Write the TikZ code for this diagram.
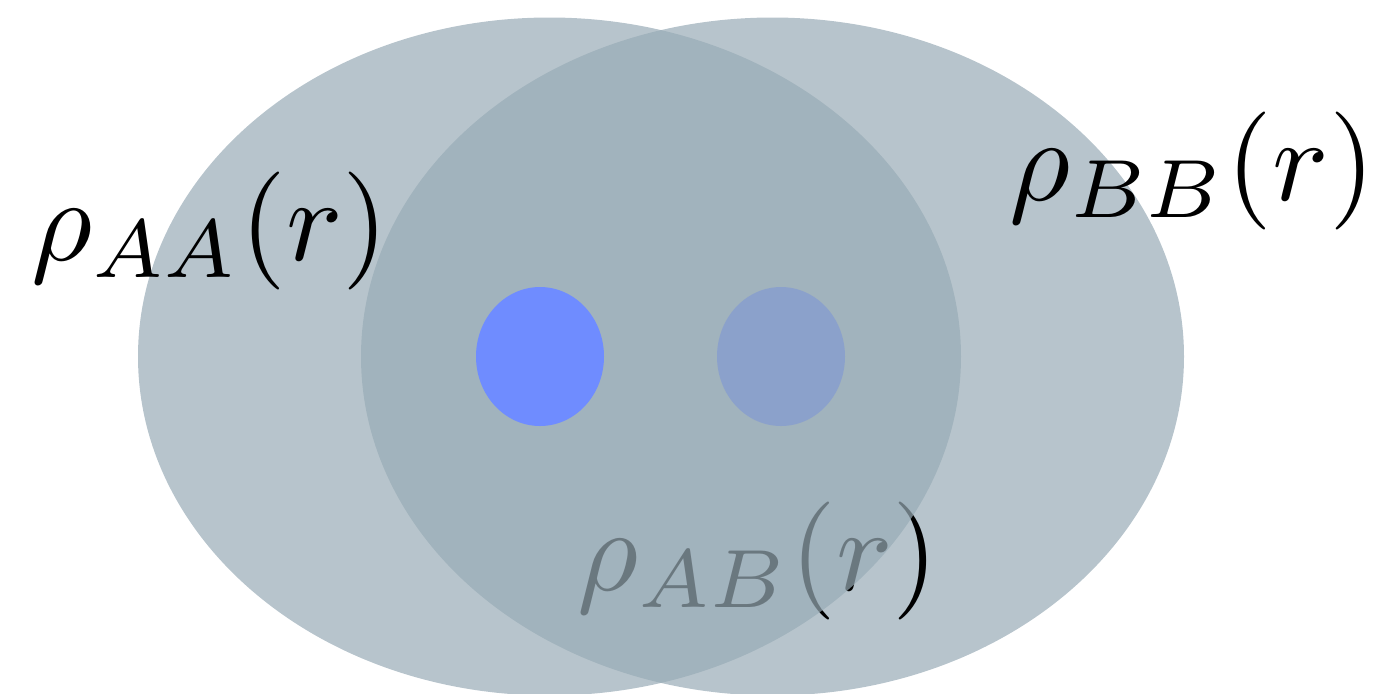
\documentclass[tikz,border=0pt]{standalone}
\definecolor{ellc}{RGB}{152,171,182}
\definecolor{dotc}{RGB}{111,140,255}
\begin{document}
\begin{tikzpicture}[x=0.5pt,y=-0.5pt,
  lbl/.style={inner sep=0pt, anchor=base, scale=5.9, transform shape},
  ell/.style={fill=ellc, fill opacity=0.7},
  dotfill/.style={fill=dotc}]
\useasboundingbox (0,0) rectangle (1378,693);
\coordinate (cb) at (772.5,356.5);
\coordinate (ca) at (549.5,356.5);
\fill[ell] (cb) ellipse [x radius=411.5, y radius=339];
\fill[dotfill] (781,356.5) ellipse [x radius=64, y radius=69.5];
\node[lbl] (ab) at (758,590) {$\rho_{AB}(r)$};
\fill[ell] (ca) ellipse [x radius=411.5, y radius=339];
\fill[dotfill] (540,356.5) ellipse [x radius=64, y radius=69.5];
\node[lbl] (aa) at (210,260) {$\rho_{AA}(r)$};
\node[lbl] (bb) at (1192,200) {$\rho_{BB}(r)$};
\end{tikzpicture}
\end{document}
